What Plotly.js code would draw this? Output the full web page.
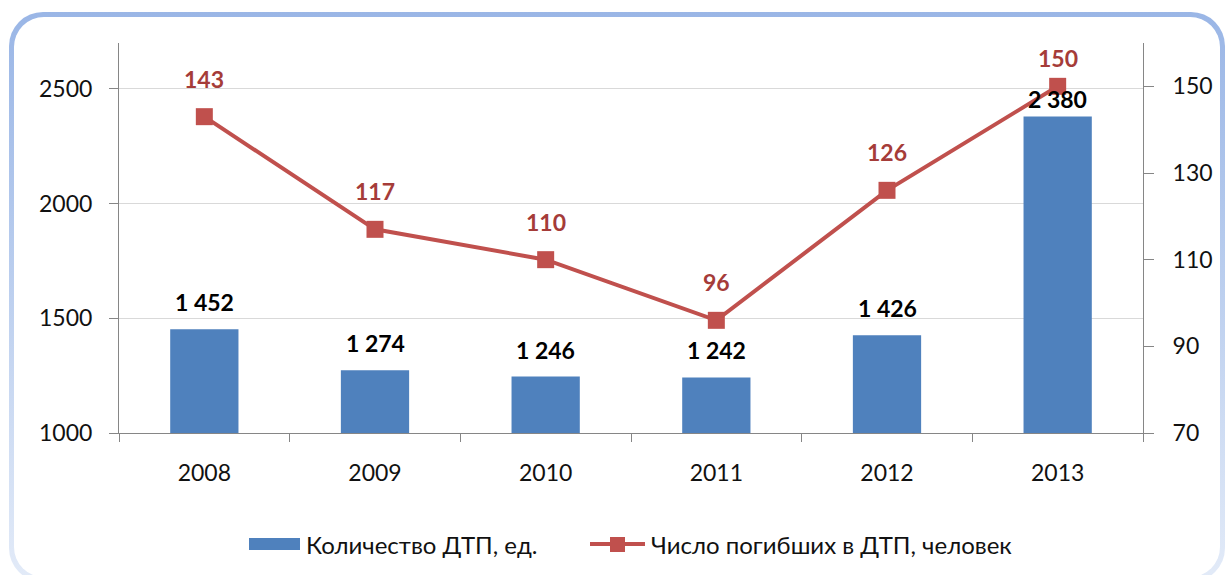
<!DOCTYPE html>
<html>
<head>
<meta charset="utf-8">
<script src="https://cdn.plot.ly/plotly-3.0.1.min.js"></script>
<style>
  html, body { margin: 0; padding: 0; background: #ffffff; }
  #wrap { position: relative; width: 1227px; height: 575px; overflow: hidden; background: #fff; }
  #frameOuter { position: absolute; left: 9px; top: 12px; width: 1216px; height: 570px;
    border-radius: 34px; background: linear-gradient(to bottom, #9AB6E6 0%, #B9CDEE 45%, #E3EBF8 100%); }
  #frameInner { position: absolute; left: 14px; top: 17px; width: 1206px; height: 560px;
    border-radius: 30px; background: #ffffff; }
  #chart { position: absolute; left: 0; top: 0; width: 1227px; height: 575px; }
</style>
</head>
<body>
<div id="wrap">
  <div id="frameOuter"></div>
  <div id="frameInner"></div>
  <div id="chart"></div>
</div>
<script>
// ---- data ----
const years = ["2008", "2009", "2010", "2011", "2012", "2013"];
const accidents = [1452, 1274, 1246, 1242, 1426, 2380];
const deaths = [143, 117, 110, 96, 126, 150];
const accidentLabels = ["1 452", "1 274", "1 246", "1 242", "1 426", "2 380"];
const seriesNames = ["Количество ДТП, ед.", "Число погибших в ДТП, человек"];

// ---- style ----
const FONT = "Lato, 'Open Sans', sans-serif";
const BLUE = "#4F81BD";
const RED = "#C0504D";
const RED_TEXT = "#A53C39";
const AXIS = "#868686";
const barShift = [27, 27, 27, 27, 27, 17];
const lineShift = [38, 38, 38, 38, 38, 28];

const traces = [
  {
    type: "bar", x: years, y: accidents, name: seriesNames[0],
    marker: { color: BLUE }, showlegend: false
  },
  {
    type: "scatter", mode: "lines+markers", x: years, y: deaths, yaxis: "y2",
    name: seriesNames[1], line: { color: RED, width: 4 },
    marker: { symbol: "square", size: 17, color: RED }, showlegend: false
  }
];

const annotations = [];
years.forEach((yr, i) => {
  // category index i on the category axis
  annotations.push({
    x: i, y: accidents[i], xref: "x", yref: "y", text: accidentLabels[i],
    showarrow: false, yshift: barShift[i],
    font: { family: FONT, size: 23, color: "#000", weight: "bold" }
  });
  annotations.push({
    x: i, y: deaths[i], xref: "x", yref: "y2", text: String(deaths[i]),
    showarrow: false, yshift: lineShift[i],
    font: { family: FONT, size: 23, color: RED_TEXT, weight: "bold" }
  });
});

// custom legend (paper coordinates)
const PW = 1024, PH = 390, L = 119, B = 433;
const px = v => (v - L) / PW;
const py = v => (B - v) / PH;
annotations.push({
  xref: "paper", yref: "paper", x: px(304), y: py(544), xanchor: "left", yanchor: "middle",
  text: seriesNames[0], showarrow: false, font: { family: FONT, size: 24, color: "#111" }
});
annotations.push({
  xref: "paper", yref: "paper", x: px(649), y: py(544), xanchor: "left", yanchor: "middle",
  text: seriesNames[1], showarrow: false, font: { family: FONT, size: 24, color: "#111" }
});
const shapes = [
  { type: "rect", xref: "paper", yref: "paper", x0: px(249), x1: px(300), y0: py(550), y1: py(538),
    fillcolor: BLUE, line: { width: 0 } },
  { type: "line", xref: "paper", yref: "paper", x0: px(590), x1: px(645), y0: py(544), y1: py(544),
    line: { color: RED, width: 4 } },
  { type: "rect", xref: "paper", yref: "paper", x0: px(610), x1: px(625), y0: py(552), y1: py(537),
    fillcolor: RED, line: { width: 0 } }
];

const layout = {
  width: 1227, height: 575,
  margin: { l: 119, r: 84, t: 43, b: 142 },
  paper_bgcolor: "rgba(0,0,0,0)", plot_bgcolor: "rgba(0,0,0,0)",
  font: { family: FONT, size: 23, color: "#111" },
  bargap: 0.6,
  showlegend: false,
  xaxis: {
    type: "category", range: [-0.5, 5.5], autorange: false,
    showline: true, linecolor: AXIS, linewidth: 1,
    ticks: "outside", tickson: "boundaries", ticklen: 8, tickcolor: AXIS,
    showgrid: false, ticklabelstandoff: 19, tickangle: 0, fixedrange: true
  },
  yaxis: {
    range: [1000, 2700], autorange: false, tick0: 1000, dtick: 500, showline: true, linecolor: AXIS,
    ticks: "outside", ticklen: 9, tickcolor: AXIS, showgrid: true, gridcolor: "#D9D9D9",
    zeroline: false, ticklabelstandoff: 12, fixedrange: true
  },
  yaxis2: {
    range: [70, 160], autorange: false, tick0: 70, dtick: 20, overlaying: "y", side: "right",
    showline: true, linecolor: AXIS, ticks: "outside", ticklen: 10, tickcolor: AXIS,
    showgrid: false, zeroline: false, ticklabelstandoff: 14, fixedrange: true
  },
  annotations: annotations,
  shapes: shapes
};

Plotly.newPlot("chart", traces, layout, { displayModeBar: false, staticPlot: true });
</script>
</body>
</html>
